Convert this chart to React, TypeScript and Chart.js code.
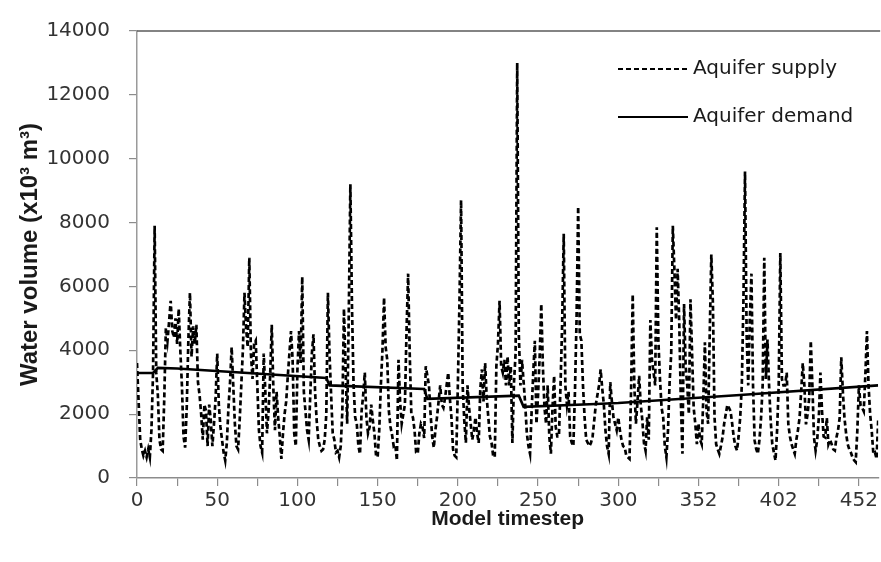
import React, { useEffect, useRef } from 'react';
import { Chart, registerables } from 'chart.js';

Chart.register(...registerables);

// x tick labels shown every 50 model steps (the timestep numbering skips 2 after 300)
const X_TICK_LABELS = ['0', '50', '100', '150', '200', '250', '300', '352', '402', '452'];
const Y_MAX = 14000;
const Y_STEP = 2000;

const SERIES_NAMES = ['Aquifer supply', 'Aquifer demand'];

// Aquifer supply, one value per model step (index 0..462)
const SUPPLY = [
  3600, 2400, 1200, 900, 700, 850, 650, 900, 650, 1500,
  3300, 7900, 3300, 2600, 1200, 900, 850, 2500, 4700, 4300,
  4900, 5550, 4600, 4400, 5000, 4200, 5300, 4000, 2900, 1300,
  950, 2200, 4300, 5800, 3800, 4750, 4200, 4800, 3000, 2600,
  2000, 1200, 2300, 2100, 1000, 2300, 1800, 1000, 1700, 2500,
  3900, 2300, 1600, 1200, 800, 550, 1100, 2200, 3000, 4100,
  2900, 1700, 1000, 900, 1800, 2900, 4000, 5800, 4700, 4100,
  6900, 3900, 3100, 4200, 4300, 2900, 1500, 1000, 800, 3900,
  2700, 1400, 2100, 3200, 4800, 2800, 1500, 2700, 1900, 1300,
  600, 1400, 2000, 2400, 3200, 3900, 4600, 3700, 1400, 1000,
  3400, 4600, 3600, 6300, 2700, 2100, 1500, 1200, 2600, 3900,
  4500, 2700, 1800, 1200, 1000, 850, 900, 1200, 2000, 5800,
  3900, 2600, 1400, 1200, 800, 850, 650, 1000, 2100, 5300,
  3500, 1700, 5100, 9200, 5400, 2900, 1900, 1700, 1000, 750,
  2100, 2600, 3300, 1900, 1400, 1600, 2300, 1800, 1400, 700,
  650, 1500, 2900, 4000, 5650, 4100, 3700, 2100, 1600, 1350,
  1000, 1050, 550, 3700, 2400, 1700, 2000, 2300, 4600, 6400,
  3900, 2000, 1900, 1500, 800, 760, 1400, 1700, 1600, 1250,
  3500, 3200, 2900, 2000, 1300, 950, 1500, 1900, 2400, 2900,
  2300, 2200, 2500, 2900, 3300, 2500, 1900, 900, 700, 650,
  2900, 5500, 8700, 2900, 1800, 1100, 2900, 2200, 1700, 1200,
  1500, 1900, 1400, 1100, 2800, 3400, 2400, 3600, 2500, 1900,
  1300, 1100, 700, 650, 3500, 4200, 5550, 3500, 3300, 3700,
  2900, 3800, 2900, 3500, 1100, 3000, 3900, 13000, 4500, 2900,
  3700, 3000, 2300, 1400, 1000, 760, 2100, 3300, 4300, 1700,
  2600, 3800, 5450, 3500, 2200, 1700, 2900, 1300, 760, 2200,
  3200, 1600, 1300, 1300, 2900, 4800, 7650, 2900, 2300, 2700,
  1300, 1100, 1000, 2700, 5000, 8500, 4500, 4300, 2900, 1900,
  1200, 1100, 1000, 1100, 1300, 1800, 2300, 2600, 2900, 3400,
  2800, 2300, 1500, 1000, 760, 3000, 2400, 1900, 1700, 1500,
  1900, 1500, 1200, 1000, 960, 700, 650, 600, 2800, 5750,
  2900, 1700, 2400, 3200, 2300, 1800, 1100, 860, 1900, 1200,
  4950, 3700, 3300, 2900, 7850, 4300, 3100, 2200, 1900, 1000,
  650, 1500, 3000, 3900, 7900, 6500, 4950, 6550, 4900, 2400,
  760, 5450, 3500, 2900, 2000, 5600, 3900, 2200, 1700, 1060,
  1700, 1200, 1060, 2500, 4250, 2100, 1700, 4500, 7000, 5450,
  1900, 1060, 900, 760, 1000, 1270, 1700, 2000, 2290, 2200,
  2090, 1700, 1270, 1000, 860, 1300, 1900, 2900, 5500, 9600,
  4500, 2900, 4950, 6400, 2900, 1170, 900, 760, 1200, 1880,
  2900, 6900, 3100, 4340, 2900, 1800, 1060, 800, 550, 1500,
  2900, 7050, 3100, 2900, 2900, 3300, 1680, 1300, 1060, 900,
  760, 1200, 1500, 1880, 2700, 3600, 2900, 1680, 2000, 2500,
  4300, 2900, 1270, 860, 1200, 1880, 3300, 2100, 1300, 1270,
  1880, 1060, 1200, 1060, 900, 860, 1270, 1500, 1880, 3780,
  2700, 1880, 1400, 1060, 900, 800, 650, 560, 500, 1470,
  2900, 2290, 2200, 2090, 3200, 4600, 2900, 2000, 1470, 760,
  800, 600, 1800,
];

// Aquifer demand: model step where the line bends, and its value there
const DEMAND_STEPS = [0, 10, 13, 25, 118, 120, 179, 181, 238, 241, 286, 300, 376, 462];
const DEMAND = [3290, 3290, 3450, 3430, 3130, 2900, 2790, 2480, 2580, 2230, 2320, 2350, 2600, 2900];

const LAST_STEP = SUPPLY.length - 1;

const frameAndLegend = {
  id: 'frameAndLegend',
  afterDatasetsDraw(chart: any) {
    const { ctx, chartArea } = chart;
    ctx.save();
    // top frame line
    ctx.strokeStyle = '#5a5a5a';
    ctx.lineWidth = 1.5;
    ctx.beginPath();
    ctx.moveTo(chartArea.left, chartArea.top);
    ctx.lineTo(chartArea.right + 2, chartArea.top);
    ctx.stroke();

    // legend
    const rows = [69, 117];
    chart.data.datasets.forEach((ds: any, i: number) => {
      const y = rows[i];
      ctx.strokeStyle = '#000';
      ctx.lineWidth = 2.2;
      ctx.setLineDash(ds.borderDash || []);
      ctx.beginPath();
      ctx.moveTo(618, y);
      ctx.lineTo(688, y);
      ctx.stroke();
      ctx.setLineDash([]);
      ctx.fillStyle = '#1a1a1a';
      ctx.font = '20px "DejaVu Sans"';
      ctx.textAlign = 'left';
      ctx.textBaseline = 'middle';
      ctx.fillText(ds.label, 693, y);
    });
    ctx.restore();
  },
};

export default function App() {
  const canvasRef = useRef<HTMLCanvasElement | null>(null);

  useEffect(() => {
    if (!canvasRef.current) return;
    const chart = new Chart(canvasRef.current, {
      type: 'line',
      data: {
        datasets: [
          {
            label: SERIES_NAMES[0],
            data: SUPPLY.map((v, i) => ({ x: i, y: v })),
            borderColor: '#000',
            borderWidth: 2.7,
            borderDash: [5, 3],
            pointRadius: 0,
            tension: 0,
            fill: false,
          },
          {
            label: SERIES_NAMES[1],
            data: DEMAND_STEPS.map((s, i) => ({ x: s, y: DEMAND[i] })),
            borderColor: '#000',
            borderWidth: 2.6,
            pointRadius: 0,
            tension: 0,
            fill: false,
          },
        ],
      },
      options: {
        animation: false,
        responsive: true,
        maintainAspectRatio: false,
        devicePixelRatio: 1,
        layout: { padding: { top: 22, right: 0, bottom: 0, left: 0 }, autoPadding: false },
        plugins: { legend: { display: false }, tooltip: { enabled: false } },
        scales: {
          x: {
            type: 'linear',
            min: 0,
            max: LAST_STEP,
            afterFit: (scale: any) => {
              scale.height = 84;
            },
            ticks: {
              stepSize: 25,
              includeBounds: false,
              autoSkip: false,
              maxRotation: 0,
              padding: 3,
              color: '#333',
              font: { family: '"DejaVu Sans"', size: 20 },
              callback: (v: any) => (Number(v) % 50 === 0 ? X_TICK_LABELS[Number(v) / 50] ?? '' : ''),
            },
            grid: {
              drawOnChartArea: false,
              drawTicks: true,
              tickLength: 8,
              color: '#8c8c8c',
              lineWidth: 1.2,
            },
            border: { display: true, color: '#8c8c8c', width: 1.5 },
            title: {
              display: true,
              text: 'Model timestep',
              color: '#1a1a1a',
              font: { family: '"Liberation Sans"', size: 21, weight: 'bold' },
              padding: { top: 0, bottom: 30 },
            },
          },
          y: {
            min: 0,
            max: Y_MAX,
            afterFit: (scale: any) => {
              scale.width = 137;
            },
            ticks: {
              stepSize: Y_STEP,
              padding: 19,
              color: '#333',
              font: { family: '"DejaVu Sans"', size: 20 },
              callback: (v: any) => String(v),
            },
            grid: {
              drawOnChartArea: false,
              drawTicks: true,
              tickLength: 8,
              color: '#8c8c8c',
              lineWidth: 1.2,
            },
            border: { display: true, color: '#9a9a9a', width: 1.5 },
            title: {
              display: true,
              text: 'Water volume (x10³ m³)',
              color: '#1a1a1a',
              font: { family: '"Liberation Sans"', size: 24, weight: 'bold' },
              padding: { top: 16, bottom: 0 },
            },
          },
        },
      },
      plugins: [frameAndLegend],
    });
    return () => chart.destroy();
  }, []);

  return (
    <div style={{ position: 'absolute', left: 0, top: 0, width: 881, height: 562, background: '#fff' }}>
      <canvas ref={canvasRef} style={{ display: 'block' }} />
    </div>
  );
}
